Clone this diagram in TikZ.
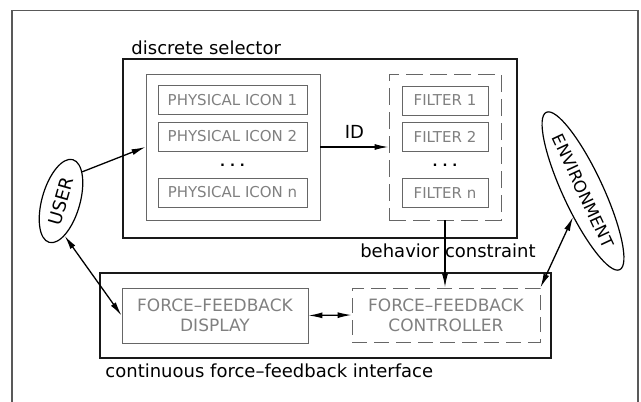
\documentclass[tikz,border=0pt]{standalone}
\usepackage{fontspec}
\setmainfont{DejaVu Sans}
\usetikzlibrary{shapes.geometric,arrows.meta}
\begin{document}
\begin{tikzpicture}[x=1pt,y=-1pt,
	outerbox/.style={draw=black!90, line width=1.5pt, inner sep=0pt},
	groupbox/.style={draw=black!60, line width=0.9pt, inner sep=0pt},
	itembox/.style={draw=black!60, line width=0.9pt, inner sep=0pt, text=black!50, font=\fontsize{15}{18}\selectfont},
	blobnode/.style={ellipse, draw=black, line width=1.2pt, inner sep=0pt},
	lbl/.style={inner sep=0pt, font=\fontsize{18}{21}\selectfont},
	dotsnode/.style={inner sep=0pt, font=\fontsize{13}{16}\selectfont\bfseries},
	flow/.style={line width=1.3pt, -{Latex[length=14pt,width=6pt]}},
	twoway/.style={line width=1.3pt, {Latex[length=14pt,width=6pt]}-{Latex[length=14pt,width=6pt]}}]
	\useasboundingbox (0,0) rectangle (641,402);
	\draw[black!65, line width=1.2pt] (12,402) -- (12,10.5) -- (638,10.5) -- (638,402);
	
	\node[outerbox, minimum width=394pt, minimum height=179pt] (sel) at (320,148.5) {};
	\node[lbl, anchor=south west, xshift=9pt, yshift=3pt] (selLbl) at (sel.north west) {discrete selector};
	\node[groupbox, minimum width=174pt, minimum height=146pt] (icons) at (233,147) {};
	\node[itembox, minimum width=149pt, minimum height=29pt] (icon1) at (232.5,100) {PHYSICAL ICON 1};
	\node[itembox, minimum width=149pt, minimum height=29pt] (icon2) at (232.5,136.5) {PHYSICAL ICON 2};
	\node[dotsnode] (iconDots) at (232.5,165) {.\hspace{5pt}.\hspace{5pt}.};
	\node[itembox, minimum width=149pt, minimum height=29pt] (iconN) at (232.5,192.5) {PHYSICAL ICON n};
	
	\node[groupbox, dash pattern=on 17pt off 7pt, minimum width=112pt, minimum height=146pt] (filters) at (445,147) {};
	\node[itembox, minimum width=86pt, minimum height=29pt] (filter1) at (445,100.5) {FILTER 1};
	\node[itembox, minimum width=86pt, minimum height=29pt] (filter2) at (445,136.5) {FILTER 2};
	\node[dotsnode] (filterDots) at (445,165) {.\hspace{5pt}.\hspace{5pt}.};
	\node[itembox, minimum width=86pt, minimum height=29pt] (filterN) at (445,193) {FILTER n};
	
	\node[outerbox, minimum width=451pt, minimum height=85pt] (iface) at (325.5,315.5) {};
	\node[lbl, anchor=north west, xshift=6pt, yshift=-5pt] (ifaceLbl) at (iface.south west) {continuous force--feedback interface};
	\node[itembox, align=center, font=\fontsize{17}{20}\selectfont, minimum width=186pt, minimum height=55pt] (display) at (215,315.5) {FORCE--FEEDBACK\\DISPLAY};
	\node[itembox, dash pattern=on 15pt off 7pt, align=center, font=\fontsize{17}{20}\selectfont, minimum width=188pt, minimum height=54pt] (ctrl) at (446,315) {FORCE--FEEDBACK\\CONTROLLER};
	
	\node[blobnode, rotate=74, minimum width=86pt, minimum height=38pt, font=\fontsize{18}{21}\selectfont] (user) at (61,201) {USER};
	\node[blobnode, rotate=-65, minimum width=142pt, minimum height=40pt, font=\fontsize{16.5}{20}\selectfont] (env) at (583,191) {ENVIRONMENT};
	\node[lbl] (bcLbl) at (448,251) {behavior constraint};
	
	\draw[flow] (user.-20) -- (icons.west);
	\draw[flow] (icons.east) -- node[lbl, above=8pt] (idLbl) {ID} (filters.west);
	\draw[flow] (filters.south) -- (filters.south |- ctrl.north);
	\draw[twoway] (user.202) -- (display.west);
	\draw[twoway] (display.east) -- (ctrl.west);
	\draw[twoway] (env.-46) -- (ctrl.north east);
\end{tikzpicture}
\end{document}
